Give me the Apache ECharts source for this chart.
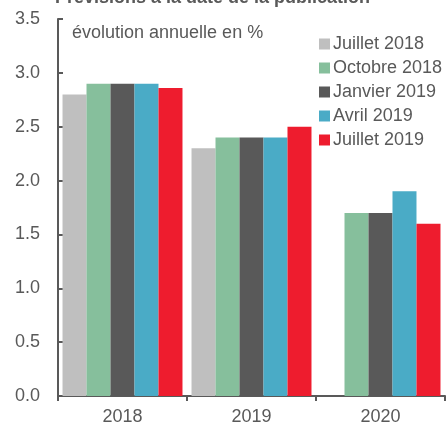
<!DOCTYPE html>
<html><head><meta charset="utf-8">
<script src="https://cdn.jsdelivr.net/npm/echarts@6/dist/echarts.min.js"></script>
<style>html,body{margin:0;padding:0;background:#fff}#c{width:446px;height:426px}</style>
</head><body><div id="c"></div>
<script>
const categories = ['2018', '2019', '2020'];
const seriesNames = ['Juillet 2018', 'Octobre 2018', 'Janvier 2019', 'Avril 2019', 'Juillet 2019'];
const juillet2018 = [2.8, 2.3, null];
const octobre2018 = [2.9, 2.4, 1.7];
const janvier2019 = [2.9, 2.4, 1.7];
const avril2019 = [2.9, 2.4, 1.9];
const juillet2019 = [2.86, 2.5, 1.6];
const yTicks = ['0.0','0.5','1.0','1.5','2.0','2.5','3.0','3.5'];
const colors = ['#bfbfbf', '#86bf9c', '#595959', '#4aabc6', '#ee1c2e'];
const values = [juillet2018, octobre2018, janvier2019, avril2019, juillet2019];
const txt = '#595959';
const font = 'Liberation Sans, Arial, sans-serif';
const chart = echarts.init(document.getElementById('c'));
chart.setOption({
  animation: false,
  color: colors,
  title: {
    text: 'Prévisions à la date de la publication',
    left: 50, top: -16,
    textStyle: {fontFamily: font, fontSize: 18, fontWeight: 'bold', color: txt}
  },
  graphic: [{
    type: 'text', left: 72, top: 24,
    style: {text: 'évolution annuelle en %', fontFamily: font, fontSize: 18, fill: txt}
  }],
  legend: {
    orient: 'vertical', left: 314, top: 30,
    itemWidth: 11, itemHeight: 11, itemGap: 6, icon: 'rect',
    textStyle: {fontFamily: font, fontSize: 18, color: txt, padding: [0,0,0,-2]},
    data: seriesNames
  },
  grid: {left: 58, right: 1, top: 19, bottom: 29, containLabel: false},
  xAxis: {
    type: 'category', data: categories,
    axisLine: {lineStyle: {color: txt, width: 2}},
    axisTick: {show: true, length: 5, lineStyle: {color: txt, width: 2}},
    axisLabel: {fontFamily: font, fontSize: 18, color: txt, margin: 12}
  },
  yAxis: {
    type: 'value', min: 0, max: 3.5, interval: 0.5,
    axisLine: {show: true, lineStyle: {color: txt, width: 2}},
    axisTick: {show: true, inside: true, length: 5, lineStyle: {color: txt, width: 2}},
    splitLine: {show: false},
    axisLabel: {fontFamily: font, fontSize: 18, color: txt, margin: 18,
      formatter: v => yTicks[Math.round(v / 0.5)]}
  },
  series: seriesNames.map((n, i) => ({
    name: n, type: 'bar', data: values[i],
    barGap: '0%', barCategoryGap: '7%',
    itemStyle: {color: colors[i]}
  }))
});
</script></body></html>
